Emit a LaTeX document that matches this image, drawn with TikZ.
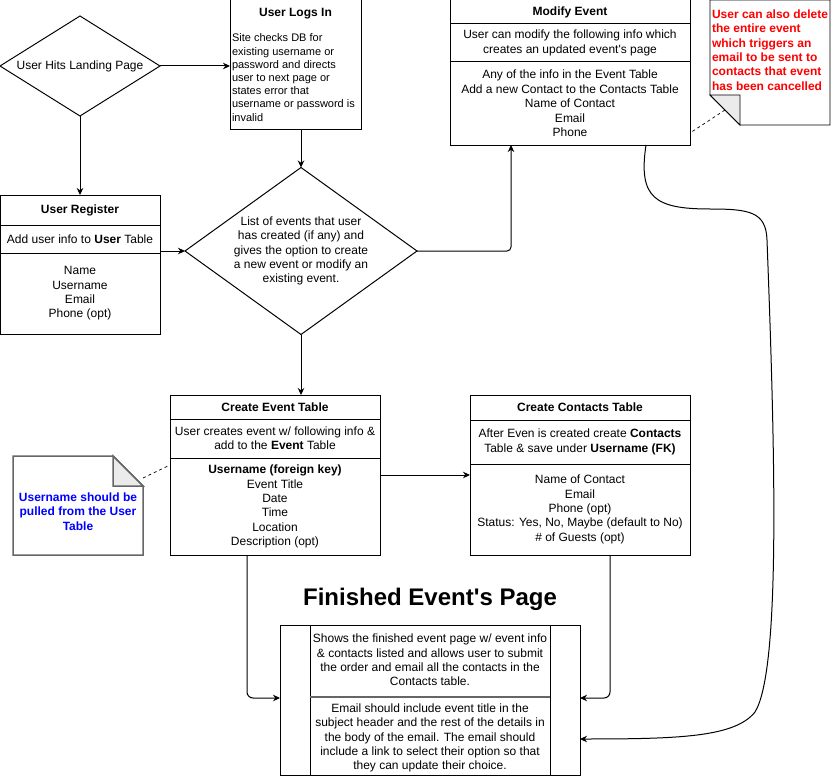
\documentclass[tikz,border=0pt]{standalone}
\usepackage{fontspec}
\setmainfont{Liberation Sans}
\usetikzlibrary{shapes.geometric,arrows.meta,calc}
\definecolor{notered}{HTML}{FF0000}
\definecolor{noteblue}{HTML}{0000FF}
\definecolor{foldgray}{HTML}{EBEBEB}
\definecolor{notegray}{HTML}{666666}
\tikzset{
  every node/.style={font=\fontsize{12}{14.4}\selectfont, inner sep=0pt, outer sep=0pt},
  cell/.style={draw, line width=1pt, rectangle, align=center},
  dia/.style={draw, line width=1pt, diamond, inner sep=0pt},
  arr/.style={draw, line width=1pt, -{Stealth[length=7pt,width=6.5pt]}},
  notelink/.style={draw, line width=0.7pt, dash pattern=on 3pt off 3pt},
  smalltext/.style={font=\fontsize{11}{13.2}\selectfont, align=left},
}
\begin{document}
\begin{tikzpicture}[x=1pt,y=-1pt]
\useasboundingbox (0,0) rectangle (831,776);

% diamonds
\node[dia, minimum width=160, minimum height=100, aspect=1.6] (d1) at (80,66) {};
\node (d1t) at (d1) {User Hits Landing Page};
\node[dia, minimum width=232, minimum height=167, aspect=1.389] (d2) at (301,251) {};
\node[align=center] (d2t) at (301,251) {List of events that user\\has created (if any) and\\gives the option to create\\a new event or modify an\\existing event.};

% user logs in
\node[cell, minimum width=131, minimum height=130] (login) at (295.5,65) {};
\node[font=\bfseries\fontsize{12}{14.4}\selectfont] (logt) at (295.5,14) {User Logs In};
\node[smalltext, anchor=west] (logb) at (232,77.5) {Site checks DB for\\existing username or\\password and directs\\user to next page or\\states error that\\username or password is\\invalid};

% user register
\node[cell, minimum width=160, minimum height=30] (reg1) at (80,210) {\textbf{User Register}};
\node[cell, minimum width=160, minimum height=28] (reg2) at (80,239) {Add user info to \textbf{User} Table};
\node[cell, minimum width=160, minimum height=81] (reg3) at (80,293.5) {Name\\Username\\Email\\Phone (opt)};

% modify event
\node[cell, minimum width=240, minimum height=24] (mod1) at (570,12) {\textbf{Modify Event}};
\node[cell, minimum width=240, minimum height=38] (mod2) at (570,43) {User can modify the following info which\\creates an updated event\textquotesingle s page};
\node[cell, minimum width=240, minimum height=83] (mod3) at (570,103.5) {Any of the info in the Event Table\\Add a new Contact to the Contacts Table\\Name of Contact\\Email\\Phone};

% create event table
\node[cell, minimum width=210, minimum height=24] (ev1) at (275,407) {\textbf{Create Event Table}};
\node[cell, minimum width=210, minimum height=39] (ev2) at (275,438.5) {User creates event w/ following info \&\\add to the \textbf{Event} Table};
\node[cell, minimum width=210, minimum height=97] (ev3) at (275,506.5) {\textbf{Username (foreign key)}\\Event Title\\Date\\Time\\Location\\Description (opt)};

% create contacts table
\node[cell, minimum width=220, minimum height=25] (ct1) at (580,407.5) {\textbf{Create Contacts Table}};
\node[cell, minimum width=220, minimum height=44] (ct2) at (580,442) {After Even is created create \textbf{Contacts}\\Table \& save under \textbf{Username (FK)}};
\node[cell, minimum width=220, minimum height=91] (ct3) at (580,509.5) {Name of Contact\\Email\\Phone (opt)\\Status: Yes, No, Maybe (default to No)\\\# of Guests (opt)};

% finished page
\node[font=\bfseries\fontsize{24}{28}\selectfont] (ftitle) at (430,599) {Finished Event\textquotesingle s Page};
\node[cell, minimum width=300, minimum height=150] (fin) at (430,700) {};
\draw[line width=1pt] ([xshift=30pt]fin.north west) -- ([xshift=30pt]fin.south west);
\draw[line width=1pt] ([xshift=-30pt]fin.north east) -- ([xshift=-30pt]fin.south east);
\draw[line width=1.5pt, notegray] ([xshift=30pt,yshift=-72pt]fin.north west) -- ([xshift=-30pt,yshift=-72pt]fin.north east);
\node[align=center] (fint1) at (430,660) {Shows the finished event page w/ event info\\\& contacts listed and allows user to submit\\the order and email all the contacts in the\\Contacts table.};
\node[align=center] (fint2) at (430,738) {Email should include event title in the\\subject header and the rest of the details in\\the body of the email. The email should\\include a link to select their option so that\\they can update their choice.};

% red note
\draw[line width=0.8pt, fill=white] (710,0) -- (830,0) -- (830,125) -- (740,125) -- (710,95) -- cycle;
\draw[line width=0.8pt, fill=foldgray] (710,95) -- (740,95) -- (740,125) -- cycle;
\node[anchor=west, align=left, text=notered, font=\bfseries\fontsize{12}{14.3}\selectfont] (rnote) at (712,50) {User can also delete\\the entire event\\which triggers an\\email to be sent to\\contacts that event\\has been cancelled};

% blue note
\draw[line width=1.5pt, notegray, fill=white] (13,456) -- (113,456) -- (143,486) -- (143,555) -- (13,555) -- cycle;
\draw[line width=1.5pt, notegray, fill=foldgray] (113,456) -- (113,486) -- (143,486) -- cycle;
\node[align=center, text=noteblue, font=\bfseries\fontsize{12}{14.3}\selectfont] (bnote) at (78,511.5) {Username should be\\pulled from the User\\Table};

% note links
\coordinate (rfold) at (725,110);
\coordinate (modnote) at (690,133);
\draw[notelink] (rfold) -- (modnote);
\coordinate (bfold) at (143,478);
\coordinate (evnote) at (170,465);
\draw[notelink] (bfold) -- (evnote);

% connectors
\draw[arr] (d1.east) -- (d1.east -| login.west);
\draw[arr] (d1.south) -- (d1.south |- reg1.north);
\draw[arr] (d2.north |- login.south) -- (d2.north);
\draw[arr] (d2.west -| reg3.east) -- (d2.west);
\coordinate (modin) at ($(mod3.south west)+(61,0)$);
\draw[arr, rounded corners=4pt] (d2.east) -| (modin);
\draw[arr] (d2.south) -- (d2.south |- ev1.north);
\draw[arr] ($(ev3.north east)+(0,17)$) -- ($(ct3.north west)+(0,11)$);
\coordinate (evout) at ($(ev3.south west)+(77,0)$);
\draw[arr, rounded corners=6pt] (evout) |- ($(fin.north west)+(0,73)$);
\coordinate (ctout) at ($(ct3.south west)+(140,0)$);
\draw[arr, rounded corners=6pt] (ctout) |- ($(fin.north east)+(0,73)$);
\coordinate (modout) at ($(mod3.south west)+(196,0)$);
\coordinate (finin) at ($(fin.north east)+(0,114)$);
\draw[arr] (modout) .. controls (638,198) and (655,209) .. (710,209)
  .. controls (750,209) and (766,212) .. (767,240)
  .. controls (775,450) and (781,670) .. (755,712)
  .. controls (735,737) and (680,739) .. (finin);
\end{tikzpicture}
\end{document}
